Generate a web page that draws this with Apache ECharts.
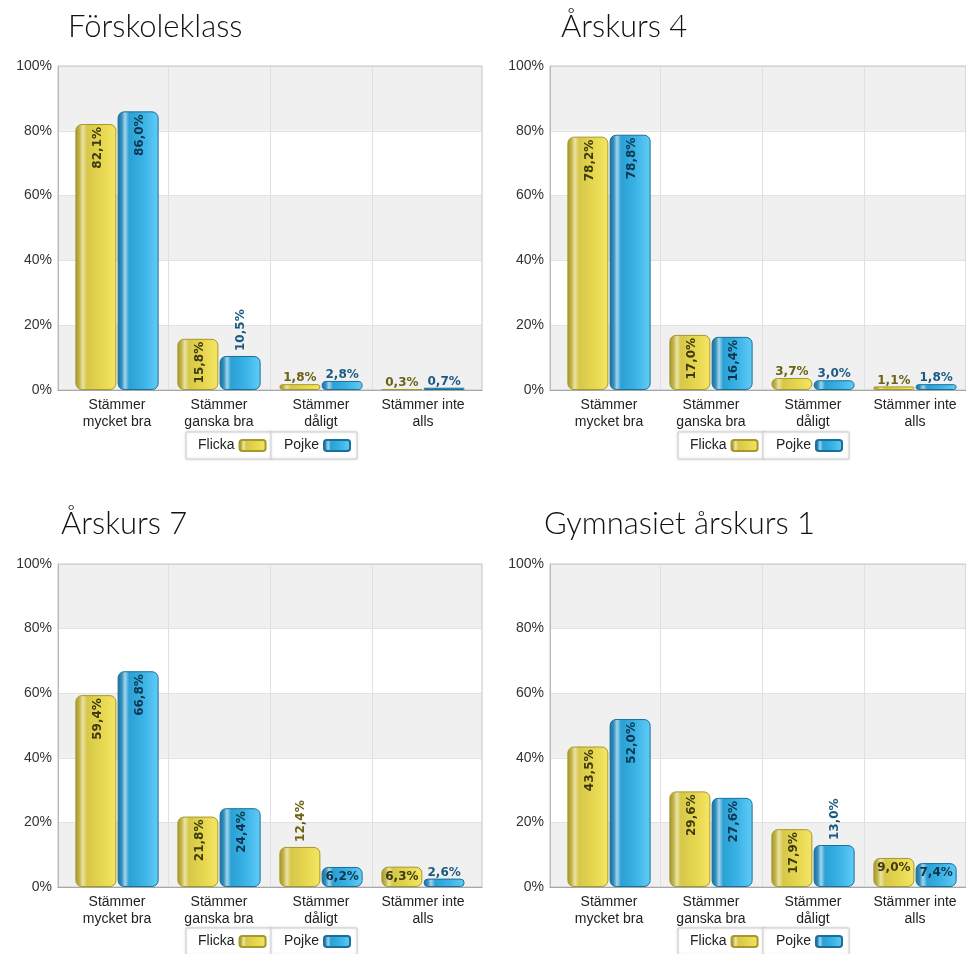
<!DOCTYPE html>
<html>
<head>
<meta charset="utf-8">
<script src="https://cdn.jsdelivr.net/npm/echarts@6/dist/echarts.min.js"></script>
<style>
html,body{margin:0;padding:0;background:#fff;}
#chart{width:966px;height:954px;}
</style>
</head>
<body>
<div id="chart"></div>
<script>
// ---- data ----
const categories = ['Stämmer\nmycket bra', 'Stämmer\nganska bra', 'Stämmer\ndåligt', 'Stämmer inte\nalls'];
const seriesNames = ['Flicka', 'Pojke'];
const panelTitles = ['Förskoleklass', 'Årskurs 4', 'Årskurs 7', 'Gymnasiet årskurs 1'];
const flickaForskoleklass = [82.1, 15.8, 1.8, 0.3];
const pojkeForskoleklass  = [86.0, 10.5, 2.8, 0.7];
const flickaArskurs4 = [78.2, 17.0, 3.7, 1.1];
const pojkeArskurs4  = [78.8, 16.4, 3.0, 1.8];
const flickaArskurs7 = [59.4, 21.8, 12.4, 6.3];
const pojkeArskurs7  = [66.8, 24.4, 6.2, 2.6];
const flickaGymnasiet1 = [43.5, 29.6, 17.9, 9.0];
const pojkeGymnasiet1  = [52.0, 27.6, 13.0, 7.4];
const yMin = 0, yMax = 100, yInterval = 20;

const panelData = [
  [flickaForskoleklass, pojkeForskoleklass],
  [flickaArskurs4, pojkeArskurs4],
  [flickaArskurs7, pojkeArskurs7],
  [flickaGymnasiet1, pojkeGymnasiet1]
];

// ---- layout ----
const layout = [
  {fx: 58,  top: 66,  h: 324, lx: 186, ly: 432, tx: 68,  ty: 11},
  {fx: 550, top: 66,  h: 324, lx: 678, ly: 432, tx: 561, ty: 11},
  {fx: 58,  top: 564, h: 323, lx: 186, ly: 928, tx: 61,  ty: 508},
  {fx: 550, top: 564, h: 323, lx: 678, ly: 928, tx: 544, ty: 508}
];
const PAD = 8, DATA_W = 408;

const FONT = '"Liberation Sans", Arial, sans-serif';
const LABEL_FONT = '"DejaVu Sans", sans-serif';

const barStyles = [
  {
    color: new echarts.graphic.LinearGradient(0, 0, 1, 0, [
      {offset: 0, color: '#a39427'}, {offset: 0.1, color: '#c2b54a'},
      {offset: 0.18, color: '#ebe3a6'}, {offset: 0.28, color: '#d6c74a'},
      {offset: 0.65, color: '#e7d74f'}, {offset: 1, color: '#f4e666'}
    ]),
    borderColor: '#a69829', borderWidth: 1, borderRadius: 6
  },
  {
    color: new echarts.graphic.LinearGradient(0, 0, 1, 0, [
      {offset: 0, color: '#156e9c'}, {offset: 0.1, color: '#3590bd'},
      {offset: 0.18, color: '#a3d5ec'}, {offset: 0.28, color: '#2aa0d4'},
      {offset: 0.65, color: '#3cb4e7'}, {offset: 1, color: '#62ccf7'}
    ]),
    borderColor: '#1a6e9a', borderWidth: 1, borderRadius: 6
  }
];
const insideColors = ['#3d3a10', '#0e3550'];
const outsideColors = ['#6c6214', '#1b5a83'];

function fmt(v) { return v.toFixed(1).replace('.', ',') + '%'; }

function labelFor(v, s) {
  const base = {show: true, fontFamily: LABEL_FONT, fontWeight: 'bold', fontSize: 12,
                textBorderWidth: 0, formatter: fmt(v)};
  if (v >= 15) return Object.assign(base, {position: 'insideTop', rotate: 90, align: 'right', verticalAlign: 'middle', distance: 3, offset: [0, 2], color: insideColors[s]});
  if (v >= 10) return Object.assign(base, {position: 'top', rotate: 90, align: 'left', verticalAlign: 'middle', distance: 5, offset: [0, 1], color: outsideColors[s]});
  if (v >= 5)  return Object.assign(base, {position: 'insideTop', rotate: 0, distance: 4, color: insideColors[s]});
  return Object.assign(base, {position: 'top', rotate: 0, distance: 0, color: outsideColors[s]});
}

const grid = [], xAxis = [], yAxis = [], series = [], legend = [], title = [];

layout.forEach((p, i) => {
  const frameIdx = grid.length;
  grid.push({left: p.fx, top: p.top, width: DATA_W + 2 * PAD, height: p.h, show: true,
             borderColor: '#c4c4c4', borderWidth: 1, backgroundColor: 'transparent', z: 3});
  xAxis.push({gridIndex: frameIdx, type: 'value', min: 0, max: 1, show: true,
              axisLine: {show: true, lineStyle: {color: '#8a8a8a', width: 1}},
              axisTick: {show: false}, axisLabel: {show: false}, splitLine: {show: false}});
  yAxis.push({gridIndex: frameIdx, type: 'value', min: yMin, max: yMax, interval: yInterval,
              axisLine: {show: true, lineStyle: {color: '#ababab'}},
              axisTick: {show: false},
              axisLabel: {formatter: '{value}%', fontFamily: FONT, fontSize: 14, color: '#333', margin: 6},
              splitLine: {show: true, lineStyle: {color: '#e2e2e2'}},
              splitArea: {show: true, areaStyle: {color: ['#f0f0f0', '#ffffff']}}});
  const dataIdx = grid.length;
  grid.push({left: p.fx + PAD, top: p.top, width: DATA_W, height: p.h});
  xAxis.push({gridIndex: dataIdx, type: 'category', data: categories,
              axisLine: {show: false}, axisTick: {show: false},
              axisLabel: {interval: 0, fontFamily: FONT, fontSize: 14, lineHeight: 17, color: '#222', margin: 7},
              splitLine: {show: true, lineStyle: {color: ['rgba(0,0,0,0)', '#e0e0e0', '#e0e0e0', '#e0e0e0', 'rgba(0,0,0,0)']}}});
  yAxis.push({gridIndex: dataIdx, type: 'value', min: yMin, max: yMax, show: false});

  panelData[i].forEach((vals, s) => {
    series.push({
      type: 'bar', name: seriesNames[s], xAxisIndex: dataIdx, yAxisIndex: dataIdx,
      barWidth: 41, barGap: '3%',
      itemStyle: barStyles[s],
      data: vals.map(v => ({value: v, label: labelFor(v, s)})),
      z: 4
    });
  });

  legend.push({data: [seriesNames[0]], left: p.lx, top: p.ly, align: 'right',
               itemWidth: 26, itemHeight: 11, icon: 'roundRect', itemGap: 5,
               padding: [6, 6, 6, 12], borderColor: '#cfcfcf', borderWidth: 1,
               backgroundColor: '#fff', shadowBlur: 3, shadowColor: 'rgba(0,0,0,0.15)',
               selectedMode: false,
               textStyle: {fontFamily: FONT, fontSize: 14, color: '#222', lineHeight: 15}});
  legend.push({data: [seriesNames[1]], left: p.lx + 85, top: p.ly, align: 'right',
               itemWidth: 26, itemHeight: 11, icon: 'roundRect', itemGap: 5,
               padding: [6, 6, 6, 13], borderColor: '#cfcfcf', borderWidth: 1,
               backgroundColor: '#fff', shadowBlur: 3, shadowColor: 'rgba(0,0,0,0.15)',
               selectedMode: false,
               textStyle: {fontFamily: FONT, fontSize: 14, color: '#222', lineHeight: 15}});

  title.push({text: panelTitles[i], left: p.tx, top: p.ty, padding: 0,
              textStyle: {fontFamily: 'Lato, "Noto Sans", sans-serif', fontWeight: 300, fontSize: 31, color: '#111'}});
});

const chart = echarts.init(document.getElementById('chart'), null, {renderer: 'canvas'});
chart.setOption({animation: false, title, grid, xAxis, yAxis, series, legend});
</script>
</body>
</html>
